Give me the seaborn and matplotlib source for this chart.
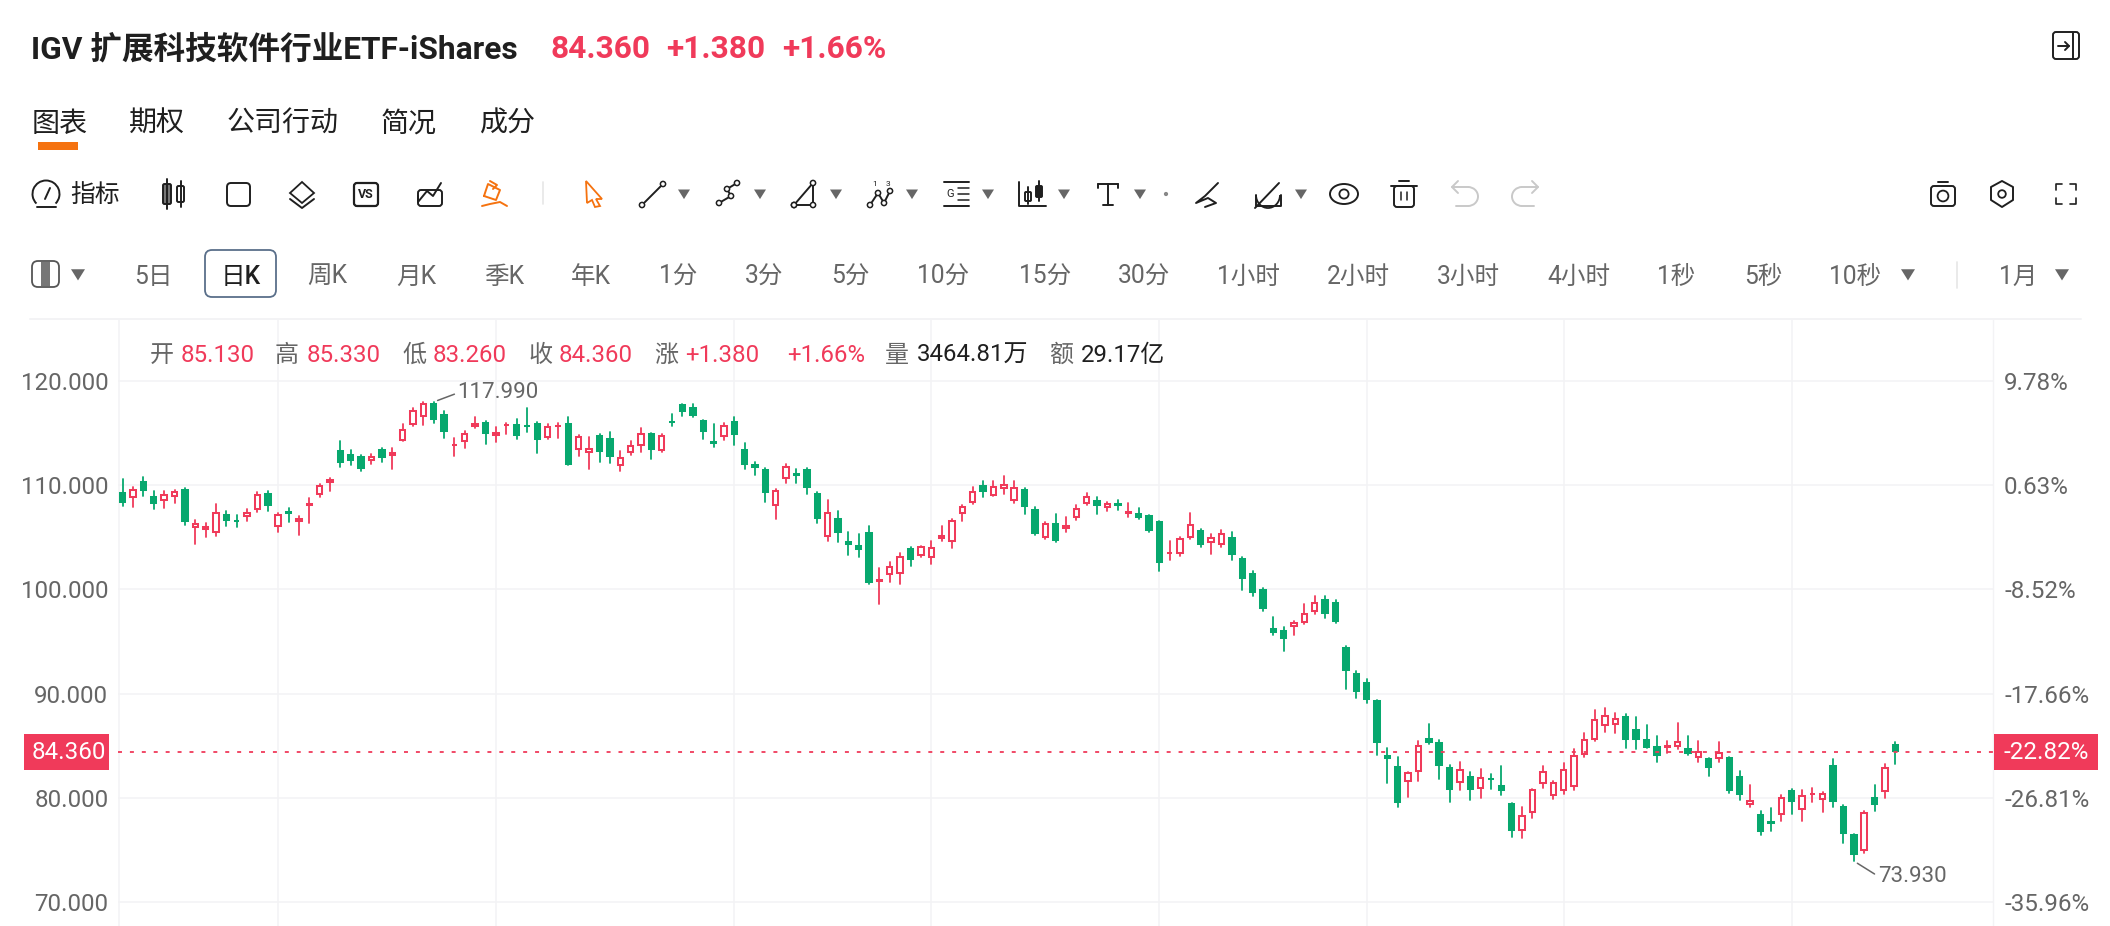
import numpy as np
import pandas as pd
import matplotlib
matplotlib.use("Agg")
import matplotlib.pyplot as plt
from matplotlib.patches import Rectangle, FancyBboxPatch, Circle, Polygon, Ellipse, Arc
import seaborn as sns

# ---------- data (prices) ----------
direction = list(
    "GRGGRRGRRRGGRRGRGRRRR" "GGGRGRRR" "RGGRRRGRRGGGRRGRRGGRRRGRGGGGGRG"
    "GGGRRGGGRGGGGRRRGRRRRRRGRRR" "GGRGRRRGRGRGGG"
    "RRRGRRGGGGGGRRRGG" "GGGG" "GGRRGGGRGRGGGRRRRRRRRRR"
    "GGGGRRGRGRGGRGGRGRRRGGGRGRG"
)
highs = [110.56,109.86,110.82,109.41,109.48,109.54,109.73,106.66,106.4,108.23,107.49,107.14,107.68,109.32,109.48,107.36,107.81,107.04,108.77,110.15,110.72,
 114.24,113.35,112.93,112.99,113.57,113.6,115.84,117.44,
 117.96,117.99,117.09,114.53,115.2,116.55,116.13,115.56,115.97,116.36,117.41,116.1,115.84,115.94,116.52,114.85,114.66,114.88,115.11,113.25,114.21,115.46,115.04,114.88,116.84,117.83,117.83,116.29,115.84,115.97,116.55,
 114.02,112.2,111.62,109.6,112.0,111.56,111.62,109.32,108.61,107.52,105.51,105.28,106.05,102.05,102.6,103.46,104.04,104.2,104.61,106.05,106.72,108.07,109.86,110.37,110.44,110.92,110.37,
 109.76,107.88,106.5,107.2,106.92,108.07,109.22,108.84,108.39,108.55,108.26,107.78,107.14,106.56,
 104.64,105.0,107.36,105.76,105.35,105.7,105.54,103.14,101.73,100.13,97.32,96.42,97.0,98.6,99.4,99.37,98.98,
 94.56,92.16,91.36,89.41,
 84.78,83.91,82.5,85.45,87.11,85.51,83.18,83.4,82.47,82.73,82.25,83.02,79.5,79.11,80.87,83.08,81.61,83.31,84.65,86.22,88.39,88.58,88.11,
 88.04,87.75,86.98,85.93,85.42,87.15,85.96,85.45,83.85,85.35,83.95,82.57,81.26,78.7,79.02,80.23,80.84,80.71,80.94,80.59,83.69,79.27,76.49,78.7,81.26,83.24,85.33]
body_top = [109.38,109.6,110.44,108.96,109.12,109.41,109.67,106.34,106.05,107.46,107.24,106.66,107.46,109.19,109.25,107.27,107.46,106.85,108.16,110.02,110.56,
 113.38,113.03,112.77,112.8,113.48,113.22,115.36,117.25,
 117.86,117.9,116.84,113.96,115.04,116.0,116.04,115.11,115.81,115.84,115.75,115.94,115.72,115.72,115.94,114.69,113.57,114.79,114.56,112.68,113.89,115.01,114.98,114.82,116.1,117.8,117.48,116.23,114.21,115.78,116.16,
 113.48,112.04,111.59,109.51,111.81,111.17,111.56,109.22,107.46,106.88,104.64,104.29,105.51,100.96,102.21,103.2,104.0,104.13,104.07,105.25,106.69,107.97,109.48,110.02,109.96,110.12,109.8,
 109.6,107.68,106.34,106.4,106.21,107.78,109.0,108.58,108.26,108.16,107.46,107.3,107.11,106.53,
 103.62,104.93,106.24,105.7,105.0,105.38,105.03,103.01,101.57,100.07,96.32,96.1,96.9,97.7,98.79,99.08,98.79,
 94.5,91.94,91.14,89.38,
 84.07,83.05,82.44,85.03,85.74,85.35,82.92,82.73,82.12,81.96,81.83,81.2,79.5,78.38,80.81,82.57,81.55,82.73,84.07,85.61,87.59,87.95,87.66,
 87.82,86.57,85.61,84.97,84.97,85.48,84.75,84.46,83.85,84.43,83.91,82.09,79.75,78.44,77.74,80.04,80.78,80.3,80.43,80.43,83.15,79.18,76.49,78.67,80.1,82.99,85.13]
body_bottom = [108.26,108.74,109.44,108.2,108.45,108.84,106.44,105.92,105.67,105.38,106.56,106.47,106.95,107.59,107.97,105.99,107.27,106.44,108.04,109.03,110.21,
 112.16,112.29,111.52,112.29,112.64,112.77,114.28,115.78,
 116.55,116.29,115.14,113.76,114.15,115.56,114.95,114.72,115.68,114.76,115.56,114.31,114.53,115.56,111.97,113.41,113.09,113.22,112.71,111.81,113.09,113.8,113.41,113.28,115.94,117.03,116.68,115.14,113.92,114.63,114.82,
 111.94,111.68,109.22,107.97,110.63,110.92,109.76,106.72,105.06,105.41,104.29,103.78,100.61,100.71,101.38,101.48,102.85,103.17,102.98,104.8,104.55,107.27,108.32,109.32,108.96,109.67,108.48,
 107.88,105.28,104.9,104.61,105.8,106.82,108.23,108.0,107.81,108.04,107.27,106.82,105.57,102.56,
 103.4,103.4,104.9,104.26,104.42,104.29,103.27,100.96,99.65,98.15,95.78,95.27,96.36,96.74,97.86,97.64,96.87,
 92.16,90.18,89.38,85.22,
 83.69,79.5,81.48,82.5,85.23,83.05,80.78,81.42,80.78,80.84,81.67,80.62,76.78,76.78,78.54,81.32,80.2,80.62,81.0,84.07,85.55,86.89,86.95,
 85.51,85.58,84.81,84.01,84.81,84.91,84.2,83.79,82.86,83.75,80.65,80.23,79.34,76.71,77.45,78.38,79.59,78.83,80.27,79.75,79.56,76.49,74.5,74.89,79.31,80.59,84.36]
lows = [108.0,107.88,108.98,107.75,107.84,108.32,106.21,104.39,105.06,105.16,106.12,106.02,106.6,107.46,107.49,105.54,106.47,105.19,106.34,108.84,109.41,
 111.72,111.97,111.4,112.04,112.26,111.52,114.21,115.65,
 115.75,115.97,114.56,112.8,113.57,115.52,113.92,114.15,114.95,114.4,115.11,113.06,114.47,114.53,111.94,112.77,111.52,112.2,112.1,111.36,112.87,113.19,112.48,113.22,115.68,116.68,116.58,114.4,113.67,114.34,113.86,
 111.52,110.98,108.42,106.76,110.24,110.18,109.16,106.37,104.64,104.58,103.33,103.11,100.52,98.6,100.68,100.55,102.28,103.11,102.47,104.64,104.0,106.56,108.23,108.84,108.93,109.12,108.26,
 107.27,105.25,104.84,104.55,105.51,106.66,108.07,107.24,107.56,107.62,106.92,106.79,105.54,101.8,
 102.85,103.24,104.87,104.1,103.4,104.1,102.82,99.94,99.33,97.92,95.65,94.08,95.65,96.68,97.64,97.26,96.78,
 90.47,89.57,89.12,84.13,
 81.39,79.11,80.04,81.64,85.16,81.77,79.56,80.78,79.76,79.95,80.84,80.27,76.26,76.1,78.09,80.97,79.85,80.33,80.75,83.95,85.48,86.35,86.19,
 84.75,84.65,84.81,83.47,84.27,84.71,84.14,83.47,82.12,83.4,80.49,79.79,79.15,76.42,76.81,77.74,78.47,77.74,79.63,78.67,79.11,75.66,73.93,74.66,78.7,79.98,83.26]

price_ticks = [120, 110, 100, 90, 80, 70]
price_labels = ["120.000", "110.000", "100.000", "90.000", "80.000", "70.000"]
pct_labels = ["9.78%", "0.63%", "-8.52%", "-17.66%", "-26.81%", "-35.96%"]
grid_candles = [15, 36, 59, 78, 100, 120, 139, 161]
last_price = 84.36
info_items = [("开", "g"), ("85.130", "r"), ("高", "g"), ("85.330", "r"), ("低", "g"), ("83.260", "r"),
              ("收", "g"), ("84.360", "r"), ("涨", "g"), ("+1.380", "r"), ("+1.66%", "r"),
              ("量", "g"), ("3464.81万", "k"), ("额", "g"), ("29.17亿", "k")]
info_x = [150, 181, 275, 307, 402, 433, 528, 559, 654, 685, 787, 885, 917, 1049, 1081]
periods = ["5日", "日K", "周K", "月K", "季K", "年K", "1分", "3分", "5分", "10分", "15分", "30分",
           "1小时", "2小时", "3小时", "4小时", "1秒", "5秒", "10秒", "1月"]
period_x = [134, 221, 307, 396, 484, 571, 659, 745, 831, 917, 1019, 1118, 1217, 1327, 1437, 1547, 1657, 1744, 1829, 1999]
tabs = ["图表", "期权", "公司行动", "简况", "成分"]
tab_x = [32, 129, 227, 381, 479]

# ---------- style ----------
sns.set_theme(style="white")
FONT = ["Roboto", "Noto Sans CJK SC", "DejaVu Sans"]
plt.rcParams["font.family"] = FONT
RED, GREEN, GREY, INK, ORANGE, GRID = "#f03a5a", "#07a86e", "#666666", "#1f1f1f", "#f5720f", "#f3f3f5"

W, H = 2110, 926
fig = plt.figure(figsize=(W / 100, H / 100), dpi=100, facecolor="white")

# ---------- chart ----------
L, R, T, B = 118, 1993, 320, 926
ax = fig.add_axes([L / W, 1 - B / H, (R - L) / W, (B - T) / H], facecolor="white")
step, x0 = 10.366, 122.7
ppu, y120 = 10.42, 381.0
n = len(highs)
idx = np.arange(n)
df = pd.DataFrame({"candle": np.tile(idx, 2), "price": highs + lows,
                   "dir": list(direction) * 2})
ax.set_xlim((L - x0) / step, (R - x0) / step)
ax.set_ylim(120 - (B - y120) / ppu, 120 + (y120 - T) / ppu)

ax.set_xticks(grid_candles)
ax.set_yticks(price_ticks)
ax.set_yticklabels(price_labels)
ax.grid(True, color=GRID, lw=1.1, zorder=0)
ax.set_axisbelow(True)
ax.axvline((L + 1 - x0) / step, color=GRID, lw=1.1, zorder=0)
ax.tick_params(axis="y", length=0, pad=7, labelsize=17.4, labelcolor=GREY)
ax.tick_params(axis="x", length=0, labelbottom=False)
for s in ["top", "left", "bottom"]:
    ax.spines[s].set_visible(False)
ax.spines["right"].set_color(GRID)
ax.spines["right"].set_linewidth(1.0)

sns.lineplot(data=df, x="candle", y="price", units="candle", hue="dir", estimator=None,
             palette={"R": RED, "G": GREEN}, lw=1.3, legend=False, ax=ax, zorder=2)
ax.set_xlabel("")
ax.set_ylabel("")

top = np.array(body_top)
bot = np.array(body_bottom)
inset = 0.09
heights = np.maximum(top - bot - 2 * inset, 0.03)
is_up = np.array([d == "R" for d in direction])
ax.bar(idx[is_up], heights[is_up], bottom=bot[is_up] + inset, width=0.52, facecolor="white",
       edgecolor=RED, linewidth=1.45, zorder=3)
ax.bar(idx[~is_up], heights[~is_up], bottom=bot[~is_up] + inset, width=0.52, facecolor=GREEN,
       edgecolor=GREEN, linewidth=1.45, zorder=3)

ax.axhline(last_price, color=RED, lw=1.3, ls=(0, (2.2, 4.4)), zorder=4)

for cand, val, label, off in [(30, max(highs), "117.990", (24, 9)), (167, min(lows), "73.930", (24, -15))]:
    ax.annotate(label, xy=(cand, val), xytext=off, textcoords="offset pixels", fontsize=16, color=GREY,
                ha="left", va="center",
                arrowprops=dict(arrowstyle="-", color=GREY, lw=1.1, shrinkA=0, shrinkB=3, relpos=(0, 0.5)),
                zorder=5)

ax2 = ax.twinx()
ax2.set_ylim(ax.get_ylim())
ax2.set_yticks(price_ticks)
ax2.set_yticklabels(pct_labels)
ax2.tick_params(axis="y", length=0, pad=8, labelsize=17.4, labelcolor=GREY)
ax2.grid(False)
for s in ax2.spines.values():
    s.set_visible(False)

# ---------- page chrome, in pixel coordinates ----------
ui = fig.add_axes([0, 0, 1, 1], facecolor="none")
ui.set_xlim(0, W)
ui.set_ylim(H, 0)
ui.axis("off")

def txt(x, y, s, size, color=INK, weight="normal", ha="left"):
    ui.text(x, y, s, fontsize=size, color=color, fontweight=weight, ha=ha, va="center", family=FONT)

def line(xs, ys, color=INK, lw=1.4):
    ui.plot(xs, ys, color=color, lw=lw, solid_capstyle="round", solid_joinstyle="round")

def rbox(x, y, w, h, r=3, ec=INK, fc="none", lw=1.4):
    ui.add_patch(FancyBboxPatch((x + r, y + r), w - 2 * r, h - 2 * r, boxstyle=f"round,pad={r}",
                                ec=ec, fc=fc, lw=lw))

def circ(x, y, r, ec=INK, fc="none", lw=1.3):
    ui.add_patch(Circle((x, y), r, ec=ec, fc=fc, lw=lw, zorder=3))

def caret(x, y, s=6, color="#666666"):
    ui.add_patch(Polygon([(x - s, y - s * .75), (x + s, y - s * .75), (x, y + s * .85)], fc=color, ec="none"))

txt(31, 49.5, "IGV 扩展科技软件行业ETF-iShares", 22.8, INK, "bold")
txt(550, 49.5, "84.360", 22.8, RED, "bold")
txt(666, 49.5, "+1.380", 22.8, RED, "bold")
txt(782, 49.5, "+1.66%", 22.8, RED, "bold")

for s, x in zip(tabs, tab_x):
    txt(x, 124.5, s, 20.2, INK)
ui.add_patch(Rectangle((38, 142), 40, 8, fc=ORANGE, ec="none"))

# toolbar
cy = 194
rbox(2053, 32, 26, 27, r=3)
line([2073, 2073], [33, 58])
line([2058, 2069], [46, 46]); line([2065, 2069, 2065], [42, 46, 50])

ui.add_patch(Arc((46, cy), 27, 27, theta1=135, theta2=45, ec=INK, lw=1.4))
line([36.5, 55.5], [207, 207]); line([45, 50], [199, 188])
txt(70, cy + 1.5, "指标", 17.8, INK)
rbox(163, 184, 8, 20, r=1.5, fc="#777777"); line([167, 167], [179, 209])
rbox(177, 186, 7, 16, r=1.5); line([180.5, 180.5], [181, 207])
rbox(227, 183, 23, 23, r=4)
ui.add_patch(Polygon([(302, 182), (314, 193), (302, 203), (290, 193)], fc="none", ec=INK, lw=1.3))
line([290, 302, 314], [199, 208, 199])
rbox(354, 183, 24, 23, r=3, lw=1.6)
ui.text(366, 194.5, "VS", fontsize=9, color=INK, fontweight="bold", ha="center", va="center", family=FONT)
line([418, 418, 427, 433, 441], [196, 202, 191, 196, 183]); rbox(418, 190, 24, 16, r=3)
line([484, 488, 500, 496, 484], [196, 184, 190, 200, 196], ORANGE)
line([490, 497, 493], [181, 185, 189], ORANGE); line([482, 490, 500, 507], [206, 204, 202, 206], ORANGE)
ui.plot([543, 543], [182, 204], color="#e6e6e6", lw=1.2)
ui.add_patch(Polygon([(586, 181), (602, 199), (596, 199), (600, 206), (595, 207), (592, 200), (587, 203)], fc="none", ec=ORANGE, lw=1.3))

def dots(xs, ys):
    line(xs, ys)
    for a, b in zip(xs, ys):
        circ(a, b, 2.6, fc="white", lw=1.1)

dots([642, 663], [205, 184]); caret(684, cy)
dots([719, 731, 727, 737], [203, 196, 189, 183]); caret(760, cy)
dots([794, 813, 813, 794], [205, 205, 183, 205]); caret(836, cy)
dots([870, 878, 884, 890], [205, 193, 203, 191]); caret(912, cy)
ui.text(875, 184, "1", fontsize=6, color=INK, ha="center", va="center")
ui.text(888, 184, "3", fontsize=6, color=INK, ha="center", va="center")
for y in (182, 206):
    line([944, 969], [y, y])
for y in (188, 194, 200):
    line([958, 969], [y, y], lw=1.1)
ui.text(950, 194, "G", fontsize=8, color=INK, ha="center", va="center")
caret(988, cy)
line([1019, 1019, 1046], [182, 206, 206])
rbox(1025, 192, 6, 9, r=1); rbox(1036, 186, 6, 11, r=1, fc=INK)
line([1028, 1028], [187, 204]); line([1039, 1039], [181, 201]); caret(1064, cy)
line([1098, 1118], [184, 184]); line([1108, 1108], [184, 205]); line([1103, 1113], [205, 205])
line([1098, 1098], [184, 188]); line([1118, 1118], [184, 188]); caret(1140, cy)
circ(1166, cy, 1.2, ec="#888888", fc="#888888")
line([1218, 1205, 1196, 1208, 1216, 1205], [183, 196, 203, 198, 203, 207])
ui.add_patch(Arc((1268, 195), 24, 26, theta1=0, theta2=180, ec=INK, lw=1.3))
line([1256, 1256, 1281, 1281], [195, 206, 206, 195]); line([1255, 1279], [208, 183]); caret(1301, cy)
ui.add_patch(Ellipse((1344, 194), 28, 20, ec=INK, fc="none", lw=1.4)); circ(1344, 194, 4.6)
line([1391, 1417], [186, 186]); line([1399, 1409], [181, 181])
rbox(1394, 186, 20, 21, r=3); line([1401, 1401], [192, 200], lw=1.1); line([1407, 1407], [192, 200], lw=1.1)
# undo / redo
UNDO = "#c9c9c9"
ui.add_patch(Arc((1468, 196.5), 20, 19, theta1=-90, theta2=90, ec=UNDO, lw=1.4))
line([1468, 1452], [187, 187], UNDO); line([1458, 1452, 1458], [181, 187, 193], UNDO); line([1468, 1456], [206, 206], UNDO)
ui.add_patch(Arc((1522, 196.5), 20, 19, theta1=90, theta2=270, ec=UNDO, lw=1.4))
line([1522, 1538], [187, 187], UNDO); line([1532, 1538, 1532], [181, 187, 193], UNDO); line([1522, 1534], [206, 206], UNDO)
rbox(1931, 186, 24, 20, r=3); circ(1943, 196, 5.4); line([1938, 1948], [182, 182])
ui.add_patch(Polygon([(2002, 181), (2013, 187), (2013, 200), (2002, 207), (1991, 200), (1991, 187)], fc="none", ec=INK, lw=1.4, joinstyle="round"))
circ(2002, 194, 3.8)
for sx, sy in ((2056, 184), (2076, 184), (2056, 204), (2076, 204)):
    dx = 1 if sx < 2066 else -1
    dy = 1 if sy < 194 else -1
    line([sx + 6 * dx, sx, sx], [sy, sy, sy + 6 * dy], lw=1.2)

# separator under toolbars
ui.plot([30, 2081], [318.5, 318.5], color=GRID, lw=1.4)

# periods row
py = 274.5
rbox(32, 261, 27, 26, r=6, ec="#555555", lw=1.3)
ui.add_patch(Rectangle((41, 262), 9, 24, fc="#777777", ec="none"))
caret(78, py, 7)
rbox(205, 250, 71, 47, r=7, ec="#5a6f8a", lw=1.3)
for s, x in zip(periods, period_x):
    active = s == "日K"
    txt(x, py + 2.5, s, 17.7, INK if active else GREY, "medium" if active else "normal")
caret(1908, py, 7); caret(2062, py, 7)
ui.plot([1957, 1957], [262, 288], color="#e6e6e6", lw=1.2)

# info row
cmap = {"g": GREY, "r": RED, "k": INK}
for (s, c), x in zip(info_items, info_x):
    txt(x, 355, s, 17.3, cmap[c])

# last price tags
yl = y120 + (120 - last_price) * ppu
ui.add_patch(Rectangle((24, yl - 18), 85, 36, fc=RED, ec="none"))
ui.add_patch(Rectangle((1994, yl - 18), 104, 36, fc=RED, ec="none"))
txt(106, yl, "84.360", 17.4, "white", ha="right")
txt(2004, yl, "-22.82%", 17.4, "white")

fig.savefig("out.png", dpi=100)
